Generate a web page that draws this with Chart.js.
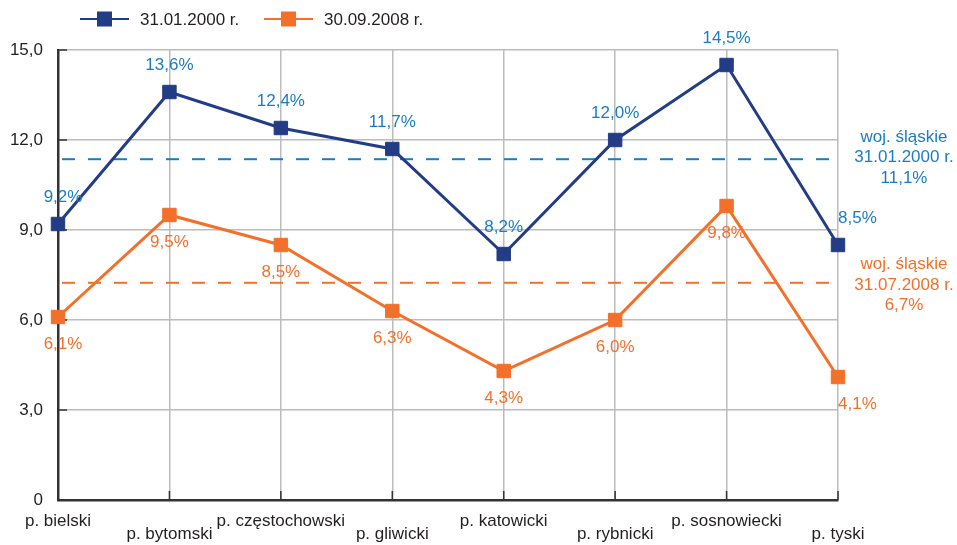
<!DOCTYPE html>
<html>
<head>
<meta charset="utf-8">
<script src="https://cdn.jsdelivr.net/npm/chart.js@4.4.0/dist/chart.umd.min.js"></script>
<style>
  html, body { margin: 0; padding: 0; background: #fff; }
  #wrap { width: 957px; height: 545px; }
</style>
</head>
<body>
<div id="wrap"><canvas id="chart" width="957" height="545"></canvas></div>
<script>
// --- Data ---
const categories = ['p. bielski', 'p. bytomski', 'p. częstochowski', 'p. gliwicki',
  'p. katowicki', 'p. rybnicki', 'p. sosnowiecki', 'p. tyski'];
const series2000 = [9.2, 13.6, 12.4, 11.7, 8.2, 12.0, 14.5, 8.5];
const series2008 = [6.1, 9.5, 8.5, 6.3, 4.3, 6.0, 9.8, 4.1];
const seriesNames = ['31.01.2000 r.', '30.09.2008 r.'];
const yTicks = [0, 3, 6, 9, 12, 15];
// voivodeship reference lines (drawn where they sit in the picture)
const refLevels = [11.36, 7.24];
const refLabels = [
  ['woj. śląskie', '31.01.2000 r.', '11,1%'],
  ['woj. śląskie', '31.07.2008 r.', '6,7%']
];

const FONT = '"Liberation Sans", Arial, sans-serif';
const NAVY = '#233c86';
const LBLUE = '#1c7cc3';
const ORANGE = '#f3702b';
const GRID = '#bcbcbc';
const AXIS = '#333333';
const TEXT = '#231f20';

const fmt = v => v.toFixed(1).replace('.', ',');

// --- Custom drawing: inner ticks, dashed refs, value labels, legend ---
const overlay = {
  id: 'overlay',
  beforeDatasetsDraw(chart) {
    const { ctx, chartArea: a, scales: { x, y } } = chart;
    ctx.save();
    // inward tick marks
    ctx.strokeStyle = AXIS;
    ctx.lineWidth = 1.5;
    yTicks.forEach(t => {
      const py = y.getPixelForValue(t);
      ctx.beginPath(); ctx.moveTo(a.left, py); ctx.lineTo(a.left + 9, py); ctx.stroke();
    });
    categories.forEach((c, i) => {
      const px = x.getPixelForValue(i);
      ctx.beginPath(); ctx.moveTo(px, a.bottom); ctx.lineTo(px, a.bottom - 9); ctx.stroke();
    });
    // dashed reference lines
    ctx.lineWidth = 2;
    ctx.setLineDash([13, 13]);
    [LBLUE, ORANGE].forEach((col, i) => {
      const py = y.getPixelForValue(refLevels[i]);
      ctx.strokeStyle = col;
      ctx.beginPath(); ctx.moveTo(a.left + 4, py); ctx.lineTo(a.right, py); ctx.stroke();
    });
    ctx.restore();
  },
  afterDatasetsDraw(chart) {
    const { ctx, chartArea: a, scales: { x, y } } = chart;
    ctx.save();
    ctx.font = '17px ' + FONT;
    ctx.textBaseline = 'middle';
    const last = categories.length - 1;
    [[series2000, LBLUE, -27], [series2008, ORANGE, 27]].forEach(([vals, col, dy]) => {
      ctx.fillStyle = col;
      vals.forEach((v, i) => {
        let px = x.getPixelForValue(i);
        const py = y.getPixelForValue(v) + dy;
        if (i === last) { ctx.textAlign = 'left'; }
        else { ctx.textAlign = 'center'; if (i === 0) px += 5; }
        ctx.fillText(fmt(v) + '%', px, py);
      });
    });
    // right-side annotations
    ctx.textAlign = 'center';
    const cx = a.right + 66;
    [[LBLUE, y.getPixelForValue(refLevels[0]) - 22], [ORANGE, y.getPixelForValue(refLevels[1]) - 18]]
      .forEach(([col, top], i) => {
        ctx.fillStyle = col;
        refLabels[i].forEach((line, k) => ctx.fillText(line, cx, top + k * 20.5));
      });
    ctx.restore();
  },
  afterDraw(chart) {
    const { ctx } = chart;
    ctx.save();
    ctx.font = '17px ' + FONT;
    ctx.textBaseline = 'middle';
    ctx.textAlign = 'left';
    const items = [[NAVY, 80, seriesNames[0]], [ORANGE, 264, seriesNames[1]]];
    items.forEach(([col, x0, name]) => {
      const ly = 19;
      ctx.strokeStyle = col;
      ctx.lineWidth = 2;
      ctx.beginPath(); ctx.moveTo(x0, ly); ctx.lineTo(x0 + 49, ly); ctx.stroke();
      ctx.fillStyle = col;
      ctx.fillRect(x0 + 17, ly - 7.5, 15, 15);
      ctx.fillStyle = TEXT;
      ctx.fillText(name, x0 + 60, ly + 1);
    });
    ctx.restore();
  }
};

const staggered = categories.map((c, i) => i % 2 === 0 ? c : ['', c]);

new Chart(document.getElementById('chart'), {
  type: 'line',
  data: {
    labels: staggered,
    datasets: [
      {
        label: seriesNames[0], data: series2000,
        borderColor: NAVY, backgroundColor: NAVY, borderWidth: 3,
        pointStyle: 'rect', pointRadius: 9.5, pointBorderWidth: 1,
        pointBackgroundColor: NAVY, pointBorderColor: NAVY,
        tension: 0, clip: false
      },
      {
        label: seriesNames[1], data: series2008,
        borderColor: ORANGE, backgroundColor: ORANGE, borderWidth: 3,
        pointStyle: 'rect', pointRadius: 9.5, pointBorderWidth: 1,
        pointBackgroundColor: ORANGE, pointBorderColor: ORANGE,
        tension: 0, clip: false
      }
    ]
  },
  options: {
    responsive: false,
    animation: false,
    layout: { padding: { top: 50, right: 119, left: 0, bottom: 0 } },
    plugins: { legend: { display: false }, tooltip: { enabled: false } },
    scales: {
      x: {
        offset: false,
        grid: { color: GRID, lineWidth: 1.5, drawTicks: false, offset: false },
        border: { color: AXIS, width: 2.5 },
        ticks: {
          color: TEXT, font: { family: FONT, size: 17, lineHeight: '13px' },
          padding: 15, maxRotation: 0, autoSkip: false
        },
        afterFit: s => { s.height = 45; }
      },
      y: {
        min: 0, max: 15,
        afterBuildTicks: s => { s.ticks = yTicks.map(v => ({ value: v })); },
        grid: { color: GRID, lineWidth: 1.5, drawTicks: false },
        border: { color: AXIS, width: 2.5 },
        ticks: {
          color: TEXT, font: { family: FONT, size: 17 }, padding: 15,
          callback: v => v === 0 ? '0' : fmt(v)
        },
        afterFit: s => { s.width = 58; }
      }
    }
  },
  plugins: [overlay]
});
</script>
</body>
</html>
